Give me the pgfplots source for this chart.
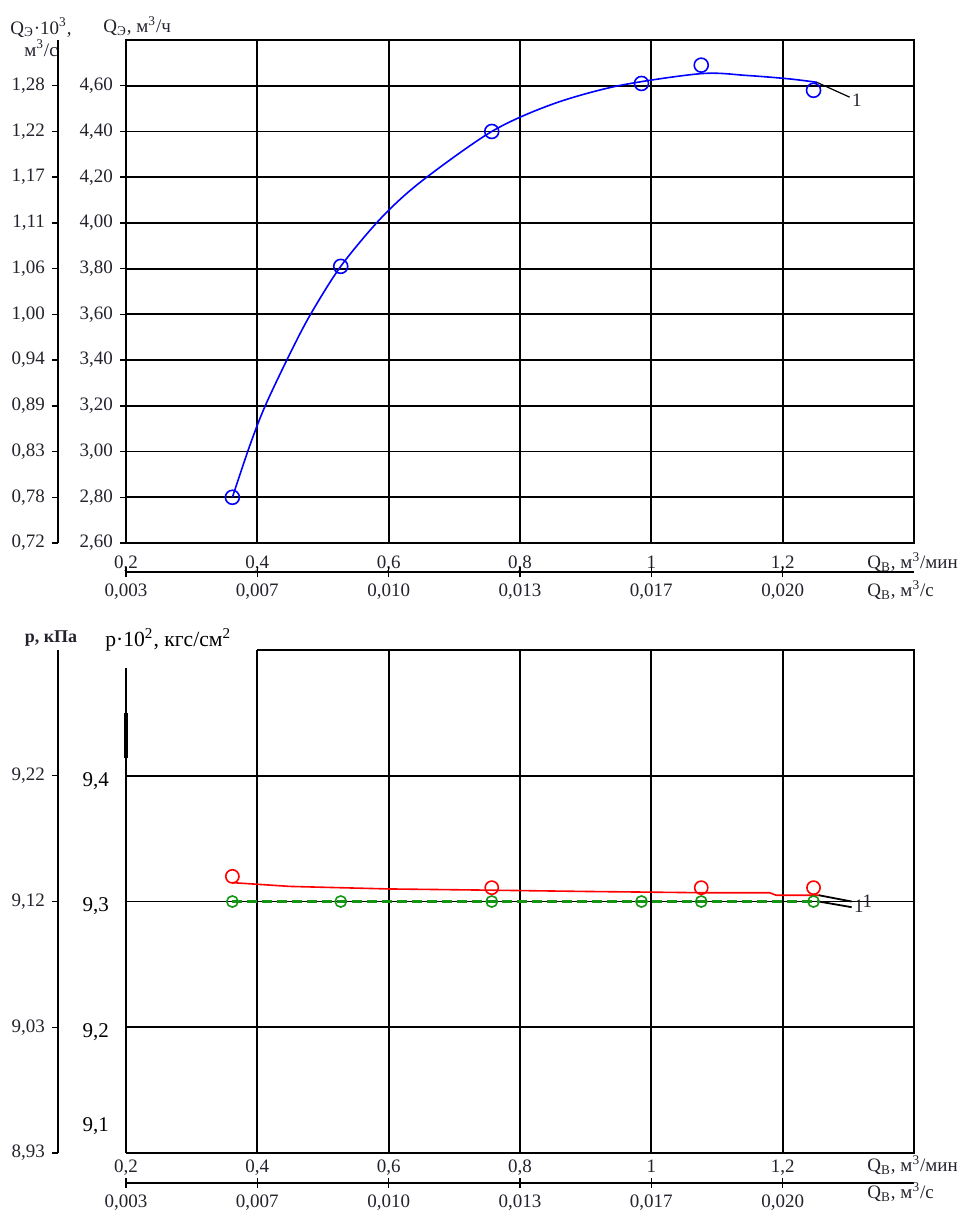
\documentclass[border=0pt]{standalone}
\usepackage{fontspec}
\setmainfont{Liberation Serif}
\usepackage{pgfplots}
\pgfplotsset{compat=1.18}
\definecolor{lbl}{RGB}{35,35,45}
\definecolor{grn}{RGB}{20,150,20}
\newcommand{\tfont}{\fontsize{9.5}{11}\selectfont}
\begin{document}
\begin{tikzpicture}
\useasboundingbox (0,0) rectangle (479.5pt,-605.5pt);
\pgfplotsset{
  every non boxed x axis/.style={},
  every non boxed y axis/.style={},
  mainax/.style={scale only axis, width=394pt, height=251.5pt, xmin=0.2, xmax=1.4,
    tick label style={font=\tfont, text=lbl},
    xtick style={draw=none},
    major grid style={black, line width=0.9pt},
    axis line style={black, line width=0.9pt},
    clip=false},
  secy/.style={scale only axis, width=2pt, height=251.5pt, xmin=0, xmax=1,
    axis y line=left, axis x line=none, y axis line style={-, black, line width=0.9pt},
    tick align=outside, major tick length=3pt, ytick style={black, line width=0.7pt},
    tick label style={font=\tfont, text=lbl}},
  secx/.style={scale only axis, width=394pt, height=2pt, xmin=0.2, xmax=1.4, ymin=0, ymax=1,
    axis x line=bottom, axis y line=none, x axis line style={-, black, line width=0.9pt},
    tick align=center, major tick length=5pt, xtick style={black, line width=0.7pt},
    xtick={0.2,0.4,0.6,0.8,1.0,1.2},
    xticklabels={{0,003},{0,007},{0,010},{0,013},{0,017},{0,020}},
    tick label style={font=\tfont, text=lbl}},
}
% ===================== TOP =====================
\begin{axis}[mainax, at={(63pt,-271.5pt)}, anchor=south west,
  ymin=2.6, ymax=4.8, grid=major,
  xtick={0.2,0.4,0.6,0.8,1.0,1.2},
  xticklabels={{0,2},{0,4},{0,6},{0,8},1,{1,2}},
  ytick={2.6,2.8,3.0,3.2,3.4,3.6,3.8,4.0,4.2,4.4,4.6},
  yticklabels={{2,60},{2,80},{3,00},{3,20},{3,40},{3,60},{3,80},{4,00},{4,20},{4,40},{4,60}},
  ytick pos=left, ytick style={black, line width=0.7pt}, tick align=outside, major tick length=3pt]
\addplot[blue, line width=0.8pt, smooth, tension=0.5] coordinates {
 (0.362,2.80) (0.389,3.03) (0.412,3.20) (0.450,3.43) (0.481,3.60) (0.527,3.81)
 (0.588,4.02) (0.649,4.18) (0.757,4.40) (0.850,4.52) (0.950,4.60) (1.076,4.653)
 (1.145,4.645) (1.210,4.630) (1.252,4.615)};
\addplot[blue, only marks, mark=o, mark size=3.5pt, mark options={line width=0.8pt}] coordinates {
 (0.362,2.80) (0.527,3.81) (0.757,4.40) (0.985,4.61) (1.076,4.69) (1.247,4.58)};
\addplot[black, line width=0.6pt] coordinates {(1.252,4.615) (1.302,4.550)};
\node[anchor=west, font=\tfont, text=lbl, inner sep=1pt] at (axis cs:1.302,4.535) {1};
\end{axis}
\begin{axis}[secy, at={(29pt,-271.5pt)}, anchor=south west, ymin=2.6, ymax=4.8,
  ytick={2.6,2.8,3.0,3.2,3.4,3.6,3.8,4.0,4.2,4.4,4.6},
  yticklabels={{0,72},{0,78},{0,83},{0,89},{0,94},{1,00},{1,06},{1,11},{1,17},{1,22},{1,28}}]
\end{axis}
\begin{axis}[secx, at={(63pt,-286pt)}, anchor=south west]
\end{axis}
\node[anchor=center, align=center, font=\fontsize{9.5}{11}\selectfont, text=lbl] at (20.5pt,-18.5pt)
  {Q\textsubscript{Э}·10\textsuperscript{3},\\ м\textsuperscript{3}/с};
\node[anchor=west, font=\tfont, text=lbl, inner sep=0pt] at (51.5pt,-13pt) {Q\textsubscript{Э}, м\textsuperscript{3}/ч};
\node[anchor=west, font=\tfont, text=lbl, inner sep=0pt] at (433.5pt,-281pt) {Q\textsubscript{В}, м\textsuperscript{3}/мин};
\node[anchor=west, font=\tfont, text=lbl, inner sep=0pt] at (433.5pt,-295pt) {Q\textsubscript{В}, м\textsuperscript{3}/с};
% ===================== BOTTOM =====================
\begin{axis}[mainax, at={(63pt,-576.5pt)}, anchor=south west,
  ymin=9.1, ymax=9.5, grid=major, axis line style={draw=none},
  xtick={0.4,0.6,0.8,1.0,1.2},
  xticklabels={{0,4},{0,6},{0,8},1,{1,2}},
  extra x ticks={0.2}, extra x tick labels={0{,}2}, extra x tick style={grid=none},
  ytick={9.2,9.3,9.4}, yticklabels={{9,2},{9,3},{9,4}},
  ytick style={draw=none},
  yticklabel style={font=\fontsize{10.5}{12}\selectfont, text=black, yshift=-2.5pt, xshift=-5pt},
  extra y ticks={9.125}, extra y tick labels={9{,}1}, extra y tick style={grid=none, ytick style={draw=none}}]
\draw[black, line width=0.9pt] (axis cs:0.2,9.1) -- (axis cs:1.4,9.1) -- (axis cs:1.4,9.5) -- (axis cs:0.4,9.5);
\draw[black, line width=0.9pt] (axis cs:0.2,9.1) -- (axis cs:0.2,9.486);
\draw[black, line width=1.8pt] (axis cs:0.2,9.414) -- (axis cs:0.2,9.45);
\addplot[grn, line width=1.1pt, dash pattern=on 5pt off 2.5pt] coordinates {
 (0.362,9.300) (0.600,9.300) (0.900,9.300) (1.255,9.300)};
\addplot[grn, only marks, mark=o, mark size=2.8pt, mark options={line width=0.8pt, solid}] coordinates {
 (0.362,9.300) (0.527,9.300) (0.757,9.300) (0.985,9.300) (1.076,9.300) (1.247,9.300)};
\addplot[red, line width=0.8pt] coordinates {
 (0.362,9.315) (0.450,9.312) (0.600,9.310) (0.757,9.309) (0.900,9.308) (1.076,9.307)
 (1.18,9.307) (1.19,9.305) (1.255,9.305)};
\addplot[red, only marks, mark=o, mark size=3.3pt, mark options={line width=0.8pt}] coordinates {
 (0.362,9.320) (0.757,9.311) (1.076,9.311) (1.247,9.311)};
\addplot[black, line width=0.9pt] coordinates {(1.255,9.305) (1.305,9.300)};
\addplot[black, line width=0.9pt] coordinates {(1.255,9.300) (1.305,9.2955)};
\node[anchor=west, font=\tfont, text=lbl, inner sep=1pt] at (axis cs:1.305,9.296) {1};
\node[anchor=west, font=\tfont, text=lbl, inner sep=1pt] at (axis cs:1.318,9.3005) {1};
\end{axis}
\begin{axis}[secy, at={(29pt,-576.5pt)}, anchor=south west, ymin=9.1, ymax=9.5,
  ytick={9.1,9.2,9.3,9.4},
  yticklabels={{8,93},{9,03},{9,12},{9,22}}]
\end{axis}
\begin{axis}[secx, at={(63pt,-591.5pt)}, anchor=south west]
\end{axis}
\node[anchor=center, font=\bfseries\fontsize{9}{11}\selectfont, text=lbl] at (25.5pt,-319.5pt) {p, кПа};
\node[anchor=west, font=\fontsize{10.8}{12}\selectfont, inner sep=0pt] at (52.5pt,-320pt) {p·10\textsuperscript{2}, кгс/см\textsuperscript{2}};
\node[anchor=west, font=\tfont, text=lbl, inner sep=0pt] at (433.5pt,-582.5pt) {Q\textsubscript{В}, м\textsuperscript{3}/мин};
\node[anchor=west, font=\tfont, text=lbl, inner sep=0pt] at (433.5pt,-596pt) {Q\textsubscript{В}, м\textsuperscript{3}/с};
\end{tikzpicture}
\end{document}
